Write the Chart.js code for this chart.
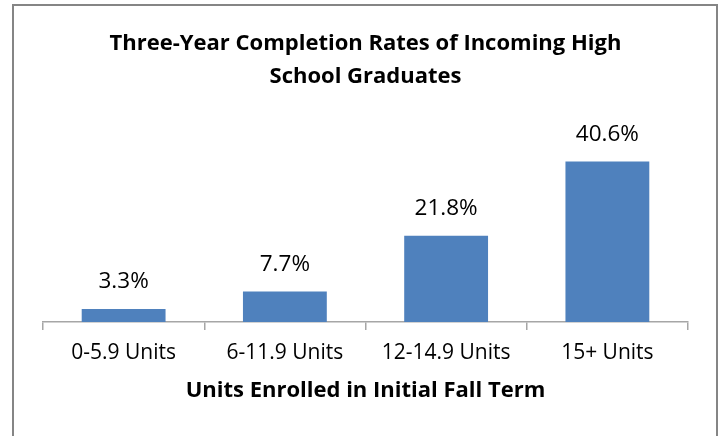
<!DOCTYPE html>
<html>
<head>
<meta charset="utf-8">
<script src="https://cdn.jsdelivr.net/npm/chart.js@4/dist/chart.umd.min.js"></script>
<style>
  html, body { margin: 0; padding: 0; background: #fff; }
  #wrap { position: relative; width: 720px; height: 436px; overflow: hidden; }
  #frame { position: absolute; left: 12px; top: 4px; width: 702px; height: 500px; border: 2px solid #858585; box-sizing: content-box; }
  canvas { position: absolute; left: 0; top: 0; }
</style>
</head>
<body>
<div id="wrap">
  <div id="frame"></div>
  <canvas id="c" width="720" height="436"></canvas>
</div>
<script>
const titleLines = ["Three-Year Completion Rates of Incoming High", "School Graduates"];
const categories = ["0-5.9 Units", "6-11.9 Units", "12-14.9 Units", "15+ Units"];
const completionRates = [3.3, 7.7, 21.8, 40.6];
const xAxisTitle = "Units Enrolled in Initial Fall Term";
const yMin = 0;
const yMax = 45;

const FONT = "'Open Sans', 'Liberation Sans', sans-serif";

const valueLabels = {
  id: 'valueLabels',
  afterDatasetsDraw(chart) {
    const ctx = chart.ctx;
    const meta = chart.getDatasetMeta(0);
    const data = chart.data.datasets[0].data;
    ctx.save();
    ctx.font = "22.5px " + FONT;
    ctx.fillStyle = "#000";
    ctx.textAlign = "center";
    ctx.textBaseline = "middle";
    meta.data.forEach((bar, i) => {
      ctx.fillText(data[i].toFixed(1) + "%", bar.x, bar.y - 27);
    });
    ctx.restore();
  }
};

new Chart(document.getElementById('c'), {
  type: 'bar',
  data: {
    labels: categories,
    datasets: [{
      data: completionRates,
      backgroundColor: '#4F81BD',
      borderWidth: 0,
      categoryPercentage: 1,
      barPercentage: 0.52
    }]
  },
  options: {
    responsive: false,
    animation: false,
    devicePixelRatio: 1,
    layout: { padding: { top: 12, left: 43, right: 32, bottom: 0 } },
    plugins: {
      legend: { display: false },
      tooltip: { enabled: false },
      title: {
        display: true,
        text: titleLines,
        color: '#000',
        font: { family: FONT, size: 22, weight: 'bold', lineHeight: 1.5 },
        padding: { top: 15, bottom: 51 }
      }
    },
    scales: {
      y: { display: false, min: yMin, max: yMax },
      x: {
        afterFit(s) { s.height = 114; },
        border: { display: true, color: '#a6a6a6', width: 1.5 },
        grid: { display: true, drawOnChartArea: false, drawTicks: true, tickLength: 8, color: '#a6a6a6', lineWidth: 1.5, offset: true },
        ticks: { color: '#000', font: { family: FONT, size: 21 }, padding: 10, maxRotation: 0 },
        title: {
          display: true,
          text: xAxisTitle,
          color: '#000',
          font: { family: FONT, size: 22, weight: 'bold', lineHeight: 1.2 },
          padding: { top: 0, bottom: 32 }
        }
      }
    }
  },
  plugins: [valueLabels]
});
</script>
</body>
</html>
